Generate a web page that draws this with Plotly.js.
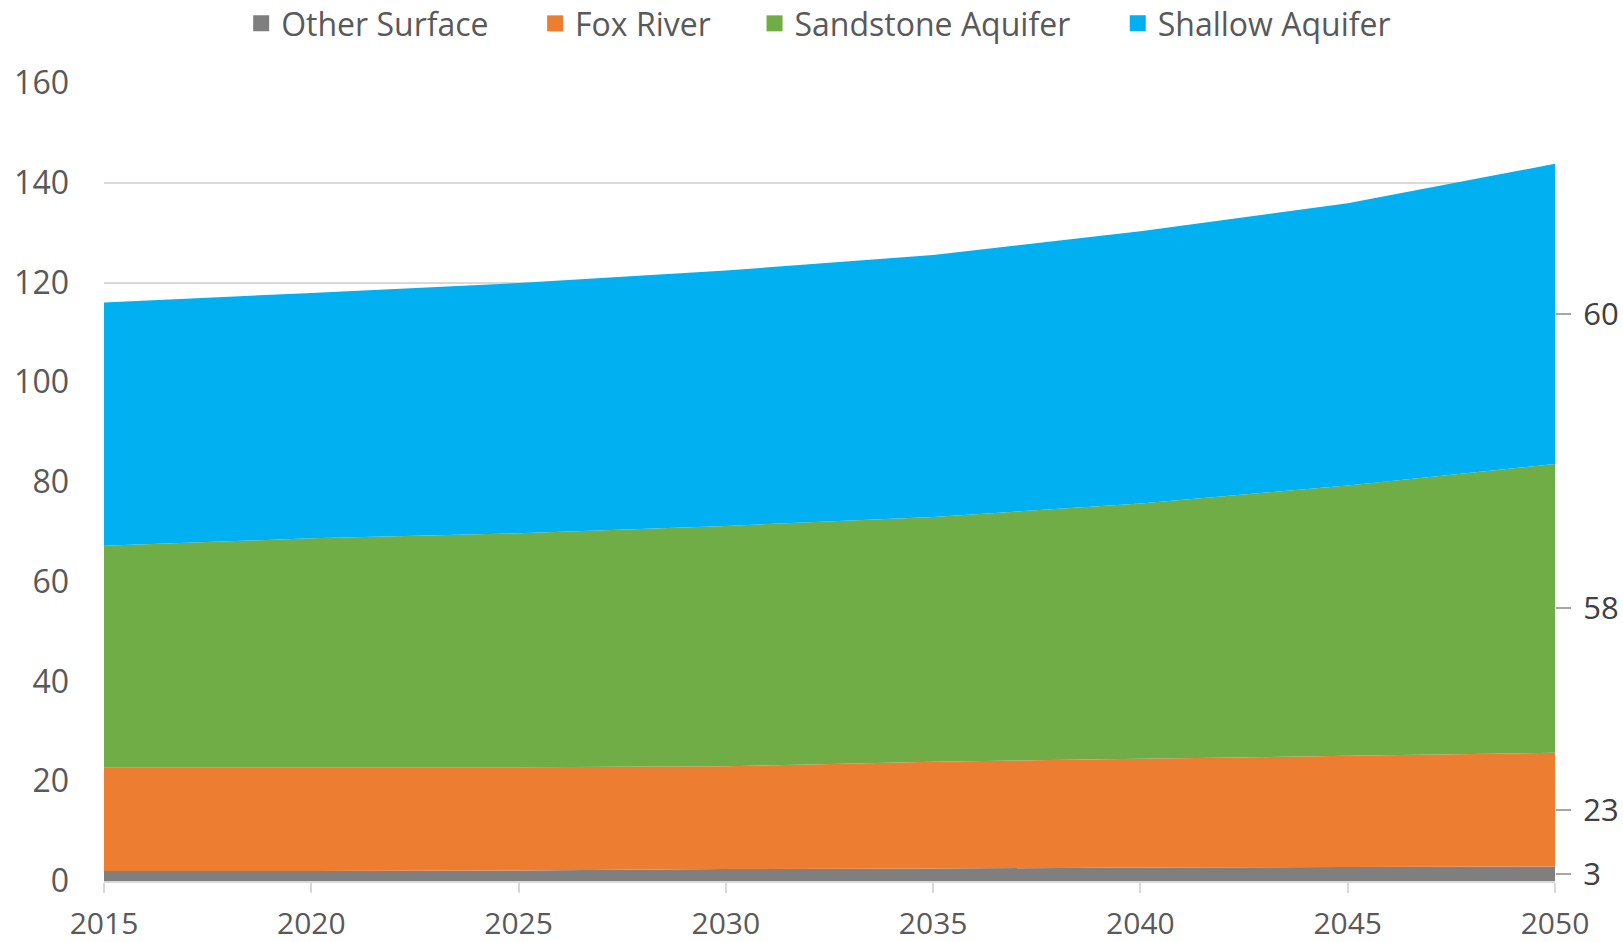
<!DOCTYPE html>
<html>
<head>
<meta charset="utf-8">
<script src="https://cdn.plot.ly/plotly-3.0.1.min.js"></script>
<style>html,body{margin:0;padding:0;background:#fff;}#chart{width:1623px;height:942px;}</style>
</head>
<body>
<div id="chart"></div>
<script>
var years = [2015, 2020, 2025, 2030, 2035, 2040, 2045, 2050];
var seriesNames = ["Other Surface", "Fox River", "Sandstone Aquifer", "Shallow Aquifer"];
var otherSurface = [2.0, 2.0, 2.1, 2.4, 2.5, 2.7, 2.8, 2.9];
var foxRiver = [20.8, 20.8, 20.7, 20.6, 21.4, 21.8, 22.3, 22.8];
var sandstoneAquifer = [44.4, 45.9, 46.9, 48.2, 49.1, 51.2, 54.2, 57.9];
var shallowAquifer = [48.8, 49.2, 50.2, 51.2, 52.5, 54.6, 56.6, 60.2];
var colors = ["#7f7f7f", "#ed7d31", "#70ad47", "#00b0f0"];
var leftTicks = [0, 20, 40, 60, 80, 100, 120, 140, 160];
var xTicks = [2015, 2020, 2025, 2030, 2035, 2040, 2045, 2050];

var legendIds = ["legend", "legend2", "legend3", "legend4"];
var legendX = [0.1486, 0.3297, 0.4649, 0.6887];

var all = [otherSurface, foxRiver, sandstoneAquifer, shallowAquifer];
var traces = all.map(function (vals, i) {
  return {
    x: years, y: vals, name: seriesNames[i], type: "scatter", mode: "none",
    stackgroup: "one", line: {width: 0, color: colors[i]}, fillcolor: colors[i],
    showlegend: false, legendgroup: "g" + i, hoverinfo: "x+y+name"
  };
});
// legend entries with square swatches
seriesNames.forEach(function (nm, i) {
  traces.push({x: [null], y: [null], name: nm, type: "scatter", mode: "markers",
    marker: {symbol: "square", size: 20, color: colors[i]}, legendgroup: "g" + i,
    legend: legendIds[i], showlegend: true, hoverinfo: "skip"});
});

// right axis: labels at the middle of each band at the final year
var last = years.length - 1;
var cum = 0, rightVals = [], rightText = [];
all.forEach(function (vals) {
  var v = vals[last];
  rightVals.push(cum + v / 2);
  rightText.push(String(Math.round(v)));
  cum += v;
});
traces.push({x: [years[0]], y: [0], yaxis: "y2", mode: "markers", marker: {opacity: 0}, showlegend: false, hoverinfo: "skip"});

var fontFam = "'Open Sans', 'Noto Sans', sans-serif";
var layout = {
  width: 1623, height: 942,
  margin: {l: 104, r: 68, t: 83, b: 61},
  paper_bgcolor: "#ffffff", plot_bgcolor: "#ffffff",
  font: {family: fontFam, size: 30, color: "#595959"},
  showlegend: true,
  xaxis: {range: [2015, 2050], tickvals: xTicks, showgrid: false, zeroline: false,
    showline: true, linecolor: "#d9d9d9", linewidth: 2,
    ticks: "outside", ticklen: 10, tickcolor: "#d9d9d9", tickwidth: 2,
    ticklabelstandoff: 5, tickfont: {size: 30, color: "#595959"}},
  yaxis: {range: [0, 160], tickvals: leftTicks, showgrid: true, gridcolor: "#d9d9d9", gridwidth: 2,
    zeroline: false, showline: false, ticks: "", ticklabelstandoff: 34,
    tickfont: {size: 32, color: "#595959"}},
  yaxis2: {range: [0, 160], overlaying: "y", side: "right", tickvals: rightVals, ticktext: rightText,
    showgrid: false, zeroline: false, showline: false,
    ticks: "outside", ticklen: 15, tickcolor: "#a6a6a6", tickwidth: 2, ticklabelstandoff: 6,
    tickfont: {size: 31, color: "#404040"}}
};
legendIds.forEach(function (id, i) {
  layout[id] = {orientation: "h", xref: "container", yref: "container", x: legendX[i], xanchor: "left",
    y: 0.975, yanchor: "middle", font: {size: 32, color: "#595959"}, itemwidth: 30,
    bgcolor: "rgba(0,0,0,0)"};
});
Plotly.newPlot("chart", traces, layout, {displayModeBar: false, responsive: false});
</script>
</body>
</html>
